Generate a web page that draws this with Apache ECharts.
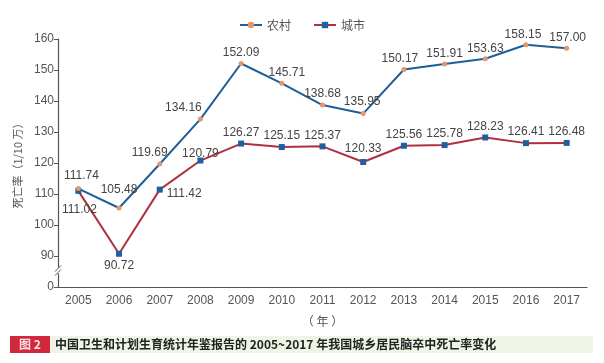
<!DOCTYPE html>
<html>
<head>
<meta charset="utf-8">
<script src="https://cdn.jsdelivr.net/npm/echarts@6/dist/echarts.min.js"></script>
<style>html,body{margin:0;padding:0;background:#fff}#c{width:604px;height:363px}</style>
</head>
<body>
<div id="c"></div>
<script>
var years = ['2005','2006','2007','2008','2009','2010','2011','2012','2013','2014','2015','2016','2017'];
var rural = [111.74,105.48,119.69,134.16,152.09,145.71,138.68,135.95,150.17,151.91,153.63,158.15,157.00];
var urban = [111.02,90.72,111.42,120.79,126.27,125.15,125.37,120.33,125.56,125.78,128.23,126.41,126.48];
var yTicks = [80,90,100,110,120,130,140,150,160]; // 80 is shown as "0" (broken axis)

// label placement (style only)
var ruralLabel = [
  {position:'top', distance:4, offset:[3,0]},
  {position:'top', distance:10, offset:[0,0]},
  {position:'top', distance:3, offset:[-10,0]},
  {position:'top', distance:3, offset:[-17,0]},
  {position:'top', distance:2, offset:[0,0]},
  {position:'top', distance:2, offset:[5,0]},
  {position:'top', distance:3, offset:[0,0]},
  {position:'top', distance:3, offset:[-1,0]},
  {position:'top', distance:2, offset:[-4,0]},
  {position:'top', distance:2, offset:[0,0]},
  {position:'top', distance:2, offset:[0,0]},
  {position:'top', distance:2, offset:[-3,0]},
  {position:'top', distance:2, offset:[1,0]}
];
var urbanLabel = [
  {position:'bottom', distance:10, offset:[1,0]},
  {position:'bottom', distance:3, offset:[0,0]},
  {position:'right', distance:4, offset:[0,4]},
  {position:'top', distance:-2, offset:[0,0]},
  {position:'top', distance:2, offset:[0,0]},
  {position:'top', distance:2, offset:[0,0]},
  {position:'top', distance:2, offset:[0,0]},
  {position:'top', distance:4, offset:[0,0]},
  {position:'top', distance:2, offset:[0,0]},
  {position:'top', distance:2, offset:[0,0]},
  {position:'top', distance:2, offset:[0,0]},
  {position:'top', distance:2, offset:[0,0]},
  {position:'top', distance:2, offset:[0,0]}
];

var FONT = '"Liberation Sans", Arial, "Noto Sans CJK SC", sans-serif';
var CJK = '"Noto Sans CJK SC", sans-serif';

function mk(vals, lab) {
  return vals.map(function(v,i){
    return {value:v, label:{position:lab[i].position, distance:lab[i].distance, offset:lab[i].offset}};
  });
}

var chart = echarts.init(document.getElementById('c'), null, {renderer:'canvas'});
var option = {
  animation:false,
  backgroundColor:'#fff',
  legend:{
    top:14, left:'center', itemWidth:22, itemHeight:8, itemGap:22,
    textStyle:{color:'#555', fontSize:12, fontFamily:CJK},
    data:['农村','城市']
  },
  grid:{left:58, right:17, top:39, bottom:76},
  xAxis:{
    type:'category', data:years, boundaryGap:true,
    name:'（ 年 ）', nameLocation:'middle', nameGap:28,
    nameTextStyle:{color:'#555', fontSize:12, fontFamily:CJK},
    axisLine:{lineStyle:{color:'#555', width:1.2}},
    axisTick:{alignWithLabel:true, inside:true, length:4, lineStyle:{color:'#555'}},
    axisLabel:{color:'#555', fontSize:12, fontFamily:FONT, margin:8}
  },
  yAxis:{
    type:'value', min:yTicks[0], max:yTicks[yTicks.length-1], interval:10,
    name:'死亡率（1/10 万）', nameLocation:'middle', nameGap:32, nameRotate:90,
    nameTextStyle:{color:'#555', fontSize:11, fontFamily:CJK},
    axisLine:{show:true, lineStyle:{color:'#555', width:1.2}},
    axisTick:{show:true, length:4, lineStyle:{color:'#555'}},
    splitLine:{show:false},
    axisLabel:{color:'#555', fontSize:12, fontFamily:FONT, margin:4,
      formatter:function(v){ return v===yTicks[0] ? '0' : String(v); }}
  },
  series:[
    {
      name:'农村', type:'line', data:mk(rural, ruralLabel),
      symbol:'circle', symbolSize:5,
      lineStyle:{color:'#1f5f99', width:2},
      itemStyle:{color:'#e8956b'},
      label:{show:true, color:'#444', fontSize:12, fontFamily:FONT,
        formatter:function(p){return p.value.toFixed(2);}},
      z:3
    },
    {
      name:'城市', type:'line', data:mk(urban, urbanLabel),
      symbol:'rect', symbolSize:6,
      lineStyle:{color:'#b0303f', width:2},
      itemStyle:{color:'#1f5f9f'},
      label:{show:true, color:'#444', fontSize:12, fontFamily:FONT,
        formatter:function(p){return p.value.toFixed(2);}},
      z:2
    }
  ]
};
chart.setOption(option);

// axis-break mark between the "0" tick and the 90 tick
var pBreak = chart.convertToPixel({yAxisIndex:0}, (yTicks[0]+yTicks[1])/2);
var pAxisX = chart.convertToPixel({gridIndex:0}, [0, yTicks[0]]);
var ax = pAxisX[0] - (chart.convertToPixel({xAxisIndex:0}, years[1]) - chart.convertToPixel({xAxisIndex:0}, years[0]))/2;
chart.setOption({
  graphic:[
    {type:'rect', shape:{x:ax-3, y:pBreak-4, width:6, height:6}, style:{fill:'#fff'}, z:100},
    {type:'line', shape:{x1:ax-3, y1:pBreak, x2:ax+3, y2:pBreak-6}, style:{stroke:'#555', lineWidth:1}, z:101},
    {type:'line', shape:{x1:ax-3, y1:pBreak+4, x2:ax+3, y2:pBreak-2}, style:{stroke:'#555', lineWidth:1}, z:101},
    // caption
    {type:'rect', shape:{x:50, y:336, width:543, height:17}, style:{fill:'#eef4e6'}, z:100},
    {type:'rect', shape:{x:10, y:336, width:40, height:17}, style:{fill:'#d0283c'}, z:100},
    {type:'text', x:30, y:344.5, style:{text:'图 2', fill:'#fbe3e6', font:'bold 12px '+CJK, align:'center', verticalAlign:'middle'}, z:101},
    {type:'text', x:55, y:344.5, style:{text:'中国卫生和计划生育统计年鉴报告的 2005~2017 年我国城乡居民脑卒中死亡率变化', fill:'#222', font:'bold 12px '+CJK, align:'left', verticalAlign:'middle'}, z:101}
  ]
});
</script>
</body>
</html>
